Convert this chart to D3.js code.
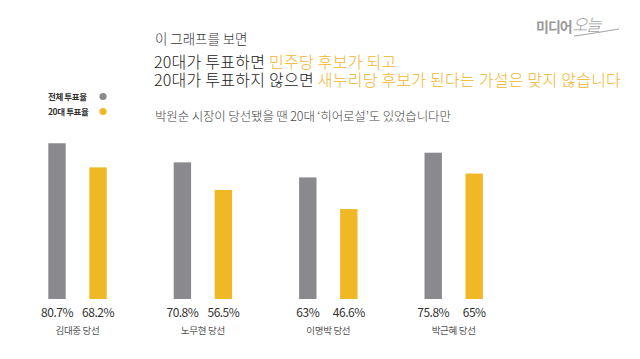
<!DOCTYPE html>
<html><head><meta charset="utf-8">
<script src="https://cdn.jsdelivr.net/npm/d3@7"></script>
<style>
html,body{margin:0;padding:0;background:#fff;}
svg{display:block;}
text{font-family:"Noto Sans CJK KR","Noto Sans",sans-serif;}
</style></head>
<body>
<svg id="chart" width="640" height="359"></svg>
<script>
const categories = ["김대중 당선", "노무현 당선", "이명박 당선", "박근혜 당선"];
const seriesNames = ["전체 투표율", "20대 투표율"];
const totalTurnout = [80.7, 70.8, 63, 75.8];
const youthTurnout = [68.2, 56.5, 46.6, 65];
const valueLabels = [["80.7%", "68.2%"], ["70.8%", "56.5%"], ["63%", "46.6%"], ["75.8%", "65%"]];
const colors = ["#8a8a8e", "#f0b824"];

const svg = d3.select("#chart");

const x0 = d3.scaleBand().domain(categories).range([48.3, 48.3 + 4 * 125.4]).padding(0);
const x1 = d3.scaleBand().domain(seriesNames).range([0, 58.4]).paddingInner(0.576).paddingOuter(0);
const y = d3.scaleLinear().domain([0, 100]).range([299, 106]);
const color = d3.scaleOrdinal().domain(seriesNames).range(colors);

const data = categories.map((c, i) => ({
  cat: c,
  vals: [
    {s: seriesNames[0], v: totalTurnout[i], label: valueLabels[i][0]},
    {s: seriesNames[1], v: youthTurnout[i], label: valueLabels[i][1]}
  ]
}));

// titles
const t = svg.append("g");
t.append("text").attr("x", 155).attr("y", 44).attr("font-size", 13.5).attr("font-weight", 300)
  .attr("letter-spacing", -0.05).attr("fill", "#333").text("이 그래프를 보면");
const l2 = t.append("text").attr("x", 154).attr("y", 68).attr("font-size", 16).attr("font-weight", 300)
  .attr("letter-spacing", 0.25).attr("fill", "#222");
l2.append("tspan").text("20대가 투표하면 ");
l2.append("tspan").attr("fill", "#f2b42a").text("민주당 후보가 되고");
const l3 = t.append("text").attr("x", 154).attr("y", 86).attr("font-size", 16).attr("font-weight", 300)
  .attr("letter-spacing", 0.25).attr("fill", "#222");
l3.append("tspan").text("20대가 투표하지 않으면 ");
l3.append("tspan").attr("fill", "#f2b42a").text("새누리당 후보가 된다는 가설은 맞지 않습니다");
t.append("text").attr("x", 155).attr("y", 121).attr("font-size", 12.5).attr("font-weight", 300)
  .attr("letter-spacing", -0.15).attr("fill", "#444").text("박원순 시장이 당선됐을 땐 20대 ‘히어로설’도 있었습니다만");

// logo
const logo = svg.append("g");
logo.append("text").attr("x", 536).attr("y", 32).attr("font-size", 14).attr("font-weight", 700)
  .attr("letter-spacing", -1).attr("fill", "#9a9a9a").text("미디어");
logo.append("text").attr("x", 572).attr("y", 31).attr("font-size", 17).attr("font-style", "italic")
  .attr("font-weight", 300).attr("letter-spacing", -2).attr("fill", "#a0a0a0").text("오늘");
logo.append("path").attr("d", "M574,36 C590,34 606,31 619,29").attr("stroke", "#a0a0a0")
  .attr("stroke-width", 1).attr("fill", "none");

// legend
const leg = svg.append("g");
seriesNames.forEach((s, i) => {
  leg.append("text").attr("x", 48).attr("y", 100 + i * 15).attr("font-size", 8.5).attr("font-weight", 700)
    .attr("letter-spacing", -0.4).attr("fill", "#333").text(s);
  leg.append("circle").attr("cx", 103).attr("cy", 96.5 + i * 15).attr("r", 3.6).attr("fill", color(s));
});

// bars
const groups = svg.append("g").selectAll("g").data(data).join("g")
  .attr("transform", d => `translate(${x0(d.cat)},0)`);
groups.selectAll("rect").data(d => d.vals).join("rect")
  .attr("x", d => x1(d.s)).attr("width", x1.bandwidth())
  .attr("y", d => y(d.v)).attr("height", d => y(0) - y(d.v))
  .attr("fill", d => color(d.s));
groups.selectAll("text.val").data(d => d.vals).join("text").attr("class", "val")
  .attr("x", d => x1(d.s) + x1.bandwidth() / 2).attr("y", 317)
  .attr("text-anchor", "middle").attr("font-size", 12).attr("letter-spacing", -0.5)
  .attr("font-family", "Roboto, 'Noto Sans', sans-serif")
  .attr("fill", "#333").text(d => d.label);
groups.append("text").attr("x", 29.2).attr("y", 334).attr("text-anchor", "middle")
  .attr("font-size", 9.5).attr("letter-spacing", -0.3).attr("fill", "#555").text(d => d.cat);
</script>
</body></html>
